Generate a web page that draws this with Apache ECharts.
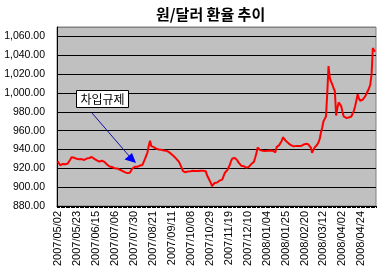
<!DOCTYPE html>
<html><head><meta charset="utf-8">
<script src="https://cdn.jsdelivr.net/npm/echarts@6/dist/echarts.min.js"></script>
<style>html,body{margin:0;padding:0;background:#fff}#c{width:390px;height:276px}</style>
</head><body><div id="c"></div>
<script>
const titleText = '원/달러 환율 추이';
const tickLabels = ['2007/05/02','2007/05/23','2007/06/15','2007/07/06','2007/07/30','2007/08/21','2007/09/11','2007/10/08','2007/10/29','2007/11/19','2007/12/10','2008/01/04','2008/01/25','2008/02/20','2008/03/12','2008/04/02','2008/04/24'];
const labelStep = 15;
const rates = [
927.5,925.8,923.2,922.8,924.6,923.9,924.2,925.8,925.1,926.9,929.4,931.8,
932.8,931.2,930.5,930.1,931.0,929.6,929.0,929.8,929.3,
928.9,929.7,930.4,929.9,931.0,931.6,932.0,931.2,930.0,929.0,
928.4,927.8,927.1,927.5,928.0,927.6,926.8,925.5,924.0,922.6,
922.0,921.8,921.4,920.5,920.0,920.6,919.9,919.5,918.6,918.0,
917.4,916.8,916.0,915.5,914.9,914.4,915.2,917.5,919.8,
921.0,921.6,922.0,921.7,922.5,922.9,923.2,923.6,924.0,930.0,
933.5,937.0,944.0,949.2,943.5,943.8,942.5,941.6,940.7,941.2,
940.0,940.3,939.6,939.8,939.0,938.8,938.5,938.9,937.2,936.0,
935.0,934.1,932.5,931.0,929.8,928.4,926.5,925.0,920.5,917.0,
916.2,915.8,916.0,916.7,917.3,916.9,917.0,917.4,916.8,917.2,917.0,
917.1,916.6,917.3,917.0,917.5,916.8,917.0,912.6,910.0,908.0,904.5,
901.0,903.0,904.5,905.6,905.0,906.6,907.0,906.4,908.0,911.5,
915.0,916.5,918.0,919.7,923.5,927.7,930.5,932.0,931.0,930.0,
928.4,926.0,924.0,922.8,921.8,922.3,921.4,920.6,920.3,921.5,
923.6,924.5,925.8,926.7,931.0,936.0,942.0,940.5,939.3,939.0,
938.6,937.8,938.4,938.0,938.6,939.2,938.8,939.5,938.7,938.0,
937.0,942.5,943.8,944.6,946.0,949.0,953.0,951.0,949.5,948.0,
947.0,946.2,944.8,944.0,943.5,942.8,943.6,943.0,943.8,944.2,
943.6,944.0,945.0,945.8,946.0,946.9,945.5,946.7,942.0,936.5,
939.5,942.0,944.0,945.0,947.5,951.0,958.0,963.0,970.0,972.5,
975.0,1000.0,1028.5,1016.0,1012.0,1009.0,1005.0,1002.0,976.0,984.0,
990.0,988.0,986.0,980.0,975.0,974.0,973.5,973.0,974.0,973.8,
975.0,976.0,981.0,986.0,992.0,998.6,994.0,991.6,993.5,993.0,
995.0,996.5,998.6,1002.0,1005.0,1009.0,1019.7,1047.7,1045.0,1044.0
];
const annotationText = '차입규제';

const categories = rates.map((_, i) => (i % labelStep === 0 && tickLabels[i / labelStep]) ? tickLabels[i / labelStep] : ('#' + i));

function fmt(v) {
  const s = v.toFixed(2);
  const [a, b] = s.split('.');
  return a.replace(/\B(?=(\d{3})+(?!\d))/g, ',') + '.' + b;
}

const chart = echarts.init(document.getElementById('c'), null, {renderer: 'canvas'});
const splitColors = ['#000','#000','#000','#000','#000','#000','#000','#000','#000','#000','#808080'];
chart.setOption({
  animation: false,
  backgroundColor: '#fff',
  title: {
    text: titleText, left: 151, top: 2,
    textStyle: {fontFamily: 'Noto Sans CJK KR', fontWeight: 'bold', fontSize: 15, color: '#000'}
  },
  grid: {left: 57, right: 14, top: 27, bottom: 70, show: true, backgroundColor: '#C0C0C0', borderColor: '#808080', borderWidth: 1},
  xAxis: {
    type: 'category', data: categories, boundaryGap: true,
    axisLine: {lineStyle: {color: '#000', width: 1}},
    axisTick: {show: true, interval: 0, length: 2, lineStyle: {color: '#000'}},
    axisLabel: {
      interval: labelStep - 1, rotate: 90, margin: 5, fontSize: 11, color: '#000', fontFamily: 'Liberation Sans',
      formatter: v => v.charAt(0) === '#' ? '' : v
    },
    splitLine: {show: false}
  },
  yAxis: {
    type: 'value', min: 880, max: 1070, interval: 20,
    axisLine: {show: true, lineStyle: {color: '#000'}},
    axisTick: {show: false},
    axisLabel: {
      margin: 12, fontSize: 10.5, color: '#000', fontFamily: 'Liberation Sans', showMaxLabel: false,
      formatter: v => v > 1060 ? '' : fmt(v)
    },
    splitLine: {show: true, lineStyle: {color: splitColors, width: 1}}
  },
  series: [{
    type: 'line', data: rates, showSymbol: false, symbol: 'none',
    lineStyle: {color: '#FF0000', width: 2}, itemStyle: {color: '#FF0000'}
  }],
  graphic: [
    {type: 'line', shape: {x1: 92, y1: 113, x2: 130, y2: 157}, style: {stroke: '#1010A0', lineWidth: 1}, z: 100},
    {type: 'polygon', shape: {points: [[136, 163], [124.5, 159.5], [132, 153]]}, style: {fill: '#0000FF'}, z: 100},
    {type: 'rect', shape: {x: 76.5, y: 90.5, width: 52, height: 17}, style: {fill: '#fff', stroke: '#000', lineWidth: 1}, z: 100},
    {type: 'text', x: 102.5, y: 99, style: {text: annotationText, fontFamily: 'Noto Sans CJK KR', fontSize: 12, fill: '#000', align: 'center', verticalAlign: 'middle'}, z: 101}
  ]
});
</script>
</body></html>
